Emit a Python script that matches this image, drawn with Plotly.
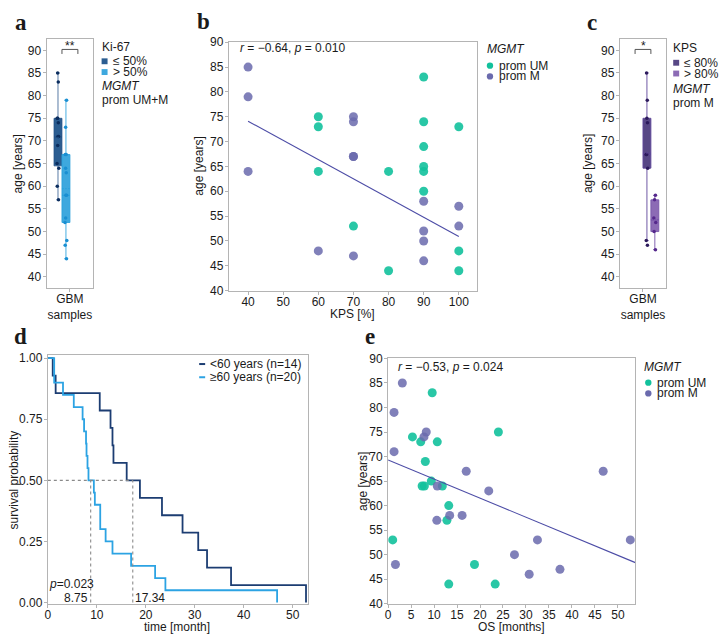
import numpy as np
import plotly.graph_objects as go

W, H = 722, 642

# ---------------- data ----------------
# panel a: age by Ki-67 group (MGMT prom UM+M)
KI67_LOW_AGE = [57, 60, 64, 65, 69, 71, 71, 74, 75, 75, 83, 85]
KI67_HIGH_AGE = [44, 47, 48, 52, 53, 58, 58, 63, 64, 67, 67, 73, 79]
KI67_LABELS = ["≤ 50%", "> 50%"]

# panel b: KPS vs age
KPS_UM = [60, 60, 60, 70, 80, 80, 90, 90, 90, 90, 90, 90, 100, 100, 100]
AGE_KPS_UM = [75, 73, 64, 53, 64, 44, 83, 74, 69, 65, 64, 60, 73, 48, 44]
KPS_M = [40, 40, 40, 60, 70, 70, 70, 70, 70, 90, 90, 90, 90, 100, 100]
AGE_KPS_M = [85, 79, 64, 48, 75, 74, 67, 67, 47, 58, 52, 50, 46, 57, 53]
KPS_THRESHOLD = 80
KPS_LABELS = ["≤ 80%", "> 80%"]

# panel e: OS vs age
OS_UM = [1.0, 9.6, 5.3, 7.1, 10.7, 8.1, 24.0, 9.4, 7.4, 7.9, 11.8, 13.2, 12.8, 18.8, 13.2, 23.3]
AGE_OS_UM = [53, 83, 74, 73, 73, 69, 75, 65, 64, 64, 64, 60, 57, 48, 44, 44]
OS_M = [3.1, 1.3, 8.3, 7.8, 1.3, 17.0, 46.8, 10.7, 21.9, 10.6, 13.4, 16.1, 32.5, 52.7, 27.5, 1.6, 30.7, 37.4]
AGE_OS_M = [85, 79, 75, 74, 71, 67, 67, 64, 63, 57, 58, 58, 53, 53, 50, 48, 46, 47]

# panel d: survival by age group
AGE_CUT = 60
MEDIANS = [8.75, 17.34]
KM_LABELS = ["<60 years (n=14)", "≥60 years (n=20)"]

STAT_B = "<i>r</i> = −0.64, <i>p</i> = 0.010"
STAT_E = "<i>r</i> = −0.53, <i>p</i> = 0.024"
STAT_D = "<i>p</i>=0.023"

# ---------------- styles ----------------
FONT = "Liberation Sans, Arial, sans-serif"
TXT = "#1a1a1a"
GREY = "#b4b4b4"
GREEN = "#12c19c"
PURPLE = "#6a6aad"
REG = "#4c4ca6"
KI_DARK_FILL, KI_DARK_LINE, KI_DARK_PT = "#2b5d91", "rgba(35,80,135,0.75)", "#0b2d5e"
KI_LIGHT_FILL, KI_LIGHT_LINE, KI_LIGHT_PT = "#3ea8de", "rgba(40,160,220,0.85)", "#1a8fd2"
KPS_DARK_FILL, KPS_DARK_LINE, KPS_DARK_PT = "#574785", "rgba(95,70,155,0.9)", "#2c1a5c"
KPS_LIGHT_FILL, KPS_LIGHT_LINE, KPS_LIGHT_PT = "#8c6bb5", "rgba(120,85,170,0.9)", "#55288c"
KM_DARK, KM_LIGHT = "#1c3d72", "#2ca3e3"
BOXGAP = 0.32


def px(x):
    return x / W


def py(y):
    return 1 - y / H


fig = go.Figure()

# ---------------- panel a ----------------
cat_a = "GBM<br>samples"
for ages, lab, fc, lc, pc in [
    (KI67_LOW_AGE, KI67_LABELS[0], KI_DARK_FILL, KI_DARK_LINE, KI_DARK_PT),
    (KI67_HIGH_AGE, KI67_LABELS[1], KI_LIGHT_FILL, KI_LIGHT_LINE, KI_LIGHT_PT),
]:
    fig.add_trace(go.Box(
        y=ages, x=[cat_a] * len(ages), name=lab, fillcolor=fc,
        line=dict(color=lc, width=1), marker=dict(color=pc, size=3.5),
        boxpoints="all", jitter=0.3, pointpos=0, boxmean=True, whiskerwidth=0.45,
        quartilemethod="inclusive", xaxis="x", yaxis="y", showlegend=False))

# ---------------- panel c ----------------
kps_m = np.array(KPS_M)
age_m = np.array(AGE_KPS_M)
for mask, lab, fc, lc, pc in [
    (kps_m <= KPS_THRESHOLD, KPS_LABELS[0], KPS_DARK_FILL, KPS_DARK_LINE, KPS_DARK_PT),
    (kps_m > KPS_THRESHOLD, KPS_LABELS[1], KPS_LIGHT_FILL, KPS_LIGHT_LINE, KPS_LIGHT_PT),
]:
    ages = age_m[mask].tolist()
    fig.add_trace(go.Box(
        y=ages, x=[cat_a] * len(ages), name=lab, fillcolor=fc,
        line=dict(color=lc, width=1), marker=dict(color=pc, size=3.5),
        boxpoints="all", jitter=0.3, pointpos=0, boxmean=True, whiskerwidth=0.45,
        quartilemethod="inclusive", xaxis="x3", yaxis="y3", showlegend=False))

# ---------------- panel b ----------------
fig.add_trace(go.Scatter(x=KPS_UM, y=AGE_KPS_UM, mode="markers", name="prom UM",
                         marker=dict(color=GREEN, size=9, opacity=0.9),
                         xaxis="x2", yaxis="y2", showlegend=False))
fig.add_trace(go.Scatter(x=KPS_M, y=AGE_KPS_M, mode="markers", name="prom M",
                         marker=dict(color=PURPLE, size=9, opacity=0.85),
                         xaxis="x2", yaxis="y2", showlegend=False))
sb, ib = np.polyfit(KPS_M, AGE_KPS_M, 1)
xb = np.array([min(KPS_M), max(KPS_M)])
fig.add_trace(go.Scatter(x=xb, y=sb * xb + ib, mode="lines", line=dict(color=REG, width=1.1),
                         xaxis="x2", yaxis="y2", showlegend=False, hoverinfo="skip"))

# ---------------- panel e ----------------
E_XRANGE = [0, 53.8]
fig.add_trace(go.Scatter(x=OS_UM, y=AGE_OS_UM, mode="markers", name="prom UM",
                         marker=dict(color=GREEN, size=9, opacity=0.9),
                         xaxis="x5", yaxis="y5", showlegend=False))
fig.add_trace(go.Scatter(x=OS_M, y=AGE_OS_M, mode="markers", name="prom M",
                         marker=dict(color=PURPLE, size=9, opacity=0.85),
                         xaxis="x5", yaxis="y5", showlegend=False))
se, ie = np.polyfit(OS_M, AGE_OS_M, 1)
xe = np.array(E_XRANGE)
fig.add_trace(go.Scatter(x=xe, y=se * xe + ie, mode="lines", line=dict(color=REG, width=1.1),
                         xaxis="x5", yaxis="y5", showlegend=False, hoverinfo="skip"))

# ---------------- panel d (Kaplan-Meier) ----------------
all_os = np.array(OS_UM + OS_M)
all_age = np.array(AGE_OS_UM + AGE_OS_M)


def km(times):
    times = np.sort(np.asarray(times))
    n = len(times)
    xs, ys, s = [0.0], [1.0], 1.0
    for u in np.unique(times):
        d = np.sum(times == u)
        s *= (1 - d / n)
        n -= d
        xs.append(float(u))
        ys.append(float(s))
    return xs, ys


for mask, lab, col in [(all_age < AGE_CUT, KM_LABELS[0], KM_DARK),
                       (all_age >= AGE_CUT, KM_LABELS[1], KM_LIGHT)]:
    kx, ky = km(all_os[mask])
    fig.add_trace(go.Scatter(x=kx, y=ky, mode="lines", line=dict(color=col, width=1.8, shape="hv"),
                             name=lab, xaxis="x4", yaxis="y4", showlegend=False))

# ---------------- axes ----------------
ax = dict(showline=True, linecolor=GREY, linewidth=1, mirror=True, ticks="outside", ticklen=3,
          tickcolor=GREY, tickfont=dict(size=12, color=TXT, family=FONT), showgrid=False,
          zeroline=False, fixedrange=True)
axx = dict(ax, ticklabelstandoff=-3)
axy = dict(ax, ticklabelstandoff=-1)

box_y = [33, 287]
fig.update_layout(
    xaxis=dict(axx, domain=[px(43.7), px(90.7)], anchor="y", type="category", range=[-0.5, 0.5]),
    yaxis=dict(axy, domain=[py(box_y[1]), py(box_y[0])], anchor="x", range=[37.6, 92.44],
               tickvals=list(range(40, 91, 5))),
    xaxis3=dict(axx, domain=[px(619.3), px(666)], anchor="y3", type="category", range=[-0.5, 0.5]),
    yaxis3=dict(axy, domain=[py(box_y[1]), py(box_y[0])], anchor="x3", range=[37.6, 92.44],
                tickvals=list(range(40, 91, 5))),
    xaxis2=dict(axx, domain=[px(226.7), px(475.7)], anchor="y2", range=[34.5, 105.1],
                tickvals=list(range(40, 101, 10))),
    yaxis2=dict(axy, domain=[py(290), py(36)], anchor="x2", range=[40, 90],
                tickvals=list(range(40, 91, 5))),
    xaxis4=dict(axx, domain=[px(45), px(306)], anchor="y4", range=[0, 53.05],
                tickvals=list(range(0, 51, 10))),
    yaxis4=dict(axy, domain=[py(610), py(356)], anchor="x4", range=[-0.005, 1.012],
                tickvals=[0, 0.25, 0.5, 0.75, 1.0], tickformat=".2f"),
    xaxis5=dict(axx, domain=[px(386.7), px(635)], anchor="y5", range=E_XRANGE,
                tickvals=list(range(0, 51, 5))),
    yaxis5=dict(axy, domain=[py(610), py(359.3)], anchor="x5", range=[40, 90],
                tickvals=list(range(40, 91, 5))),
)

# ---------------- annotations ----------------
anns = []


def ann(text, x, y, xanchor="left", size=12, color=TXT, angle=0, family=FONT, yanchor="middle"):
    anns.append(dict(text=text, x=px(x), y=py(y), xref="paper", yref="paper", showarrow=False,
                     xanchor=xanchor, yanchor=yanchor, textangle=angle,
                     font=dict(size=size, color=color, family=family)))


SERIF = "Liberation Serif, Times New Roman, serif"
for letter, x, y in [("a", 10, 16), ("b", 193, 15), ("c", 584, 16), ("d", 9, 337), ("e", 361, 337)]:
    ann(f"<b>{letter}</b>", x, y, size=23, family=SERIF)

# axis titles
ann("age [years]", 15, 160, xanchor="center", angle=-90)
ann("age [years]", 197, 163, xanchor="center", angle=-90)
ann("age [years]", 587, 160, xanchor="center", angle=-90)
ann("KPS [%]", 351, 314, xanchor="center")
ann("survival probability", 12, 483, xanchor="center", angle=-90)
ann("time [month]", 175, 633.5, xanchor="center")
ann("age [years]", 362, 485, xanchor="center", angle=-90)
ann("OS [months]", 511, 633.5, xanchor="center")

# stats
ann(STAT_B, 236, 42)
ann(STAT_E, 395, 368)
ann(STAT_D, 44, 589.5)
ann(f"{MEDIANS[0]:.2f}", 87, 604.5, xanchor="right")
ann(f"{MEDIANS[1]:.2f}", 131, 604.5)

# significance marks
ann("**", 67, 40, xanchor="center", size=12)
ann("*", 643, 40, xanchor="center", size=12)

# legends (text)
ann("Ki-67", 97, 41, size=12)
ann(KI67_LABELS[0], 108, 55.5, size=12)
ann(KI67_LABELS[1], 108, 66.5, size=12)
ann("<i>MGMT</i>", 97, 81, size=12)
ann("prom UM+M", 97, 95.5, size=12)

ann("KPS", 671, 42, size=12)
ann(KPS_LABELS[0], 682, 57, size=12)
ann(KPS_LABELS[1], 682, 68, size=12)
ann("<i>MGMT</i>", 671, 84, size=12)
ann("prom M", 671, 98.5, size=12)

ann("<i>MGMT</i>", 484, 43, size=12)
ann("prom UM", 496, 60, size=12)
ann("prom M", 496, 71, size=12)

ann("<i>MGMT</i>", 642, 368, size=12)
ann("prom UM", 655, 384, size=12)
ann("prom M", 655, 395, size=12)

ann(KM_LABELS[0], 206, 365, size=12)
ann(KM_LABELS[1], 206, 378.5, size=12)

# ---------------- shapes ----------------
shapes = []


def rect(x0, y0, x1, y1, color):
    shapes.append(dict(type="rect", xref="paper", yref="paper", x0=px(x0), x1=px(x1),
                       y0=py(y1), y1=py(y0), fillcolor=color, line=dict(width=0)))


def circ(cx, cy, r, color):
    shapes.append(dict(type="circle", xref="paper", yref="paper", x0=px(cx - r), x1=px(cx + r),
                       y0=py(cy + r), y1=py(cy - r), fillcolor=color, line=dict(width=0)))


def seg(x0, y0, x1, y1, color, width=1, dash="solid", xref="paper", yref="paper", conv=True):
    if conv:
        x0, x1, y0, y1 = px(x0), px(x1), py(y0), py(y1)
    shapes.append(dict(type="line", xref=xref, yref=yref, x0=x0, x1=x1, y0=y0, y1=y1,
                       line=dict(color=color, width=width, dash=dash)))


rect(99, 52.5, 105, 58.5, KI_DARK_FILL)
rect(99, 63.5, 105, 69.5, KI_LIGHT_FILL)
rect(673, 54, 679, 60, KPS_DARK_FILL)
rect(673, 65, 679, 71, KPS_LIGHT_FILL)
circ(489, 60, 3.2, GREEN)
circ(489, 71, 3.2, PURPLE)
circ(648, 384, 3.2, GREEN)
circ(648, 395, 3.2, PURPLE)
seg(197, 365, 203, 365, KM_DARK, 2)
seg(197, 378.5, 203, 378.5, KM_LIGHT, 2)

# brackets
off = (1 - BOXGAP) / 4
for xr, yr in [("x", "y"), ("x3", "y3")]:
    seg(-off, 90.2, off, 90.2, "#555", 1, xref=xr, yref=yr, conv=False)
    seg(-off, 90.2, -off, 89.2, "#555", 1, xref=xr, yref=yr, conv=False)
    seg(off, 90.2, off, 89.2, "#555", 1, xref=xr, yref=yr, conv=False)

# median guide lines in panel d
seg(0, 0.5, MEDIANS[1], 0.5, "#8a8a8a", 1.1, "dot", "x4", "y4", conv=False)
for m in MEDIANS:
    seg(m, 0, m, 0.5, "#8a8a8a", 1.1, "dot", "x4", "y4", conv=False)

fig.update_layout(
    width=W, height=H, margin=dict(l=0, r=0, t=0, b=0),
    paper_bgcolor="white", plot_bgcolor="white",
    font=dict(family=FONT, size=12, color=TXT),
    boxmode="group", boxgap=BOXGAP, boxgroupgap=0,
    annotations=anns, shapes=shapes, showlegend=False,
)

fig.write_html("out.html", config={"displayModeBar": False},
               post_script="document.body.style.margin='0px';document.body.style.overflow='hidden';")
